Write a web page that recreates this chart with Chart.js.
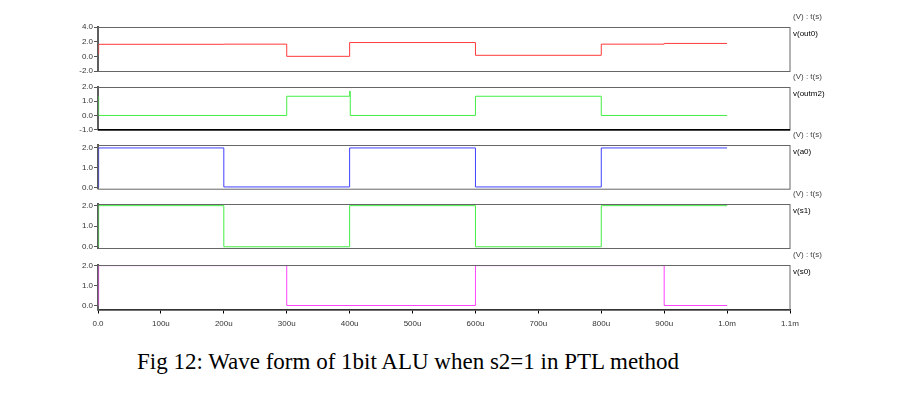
<!DOCTYPE html>
<html>
<head>
<meta charset="utf-8">
<script src="https://cdn.jsdelivr.net/npm/chart.js@4/dist/chart.umd.min.js"></script>
<style>
  body { margin: 0; background: #fff; }
  #wrap { position: relative; width: 906px; height: 399px; overflow: hidden; }
  #wrap canvas { position: absolute; left: 0; }
  #caption {
    position: absolute; left: 137px; top: 349px;
    font-family: "Liberation Serif", "DejaVu Serif", serif;
    font-size: 23px; color: #000; white-space: nowrap;
  }
</style>
</head>
<body>
<div id="wrap">
  <div id="caption">Fig 12: Wave form of 1bit ALU when s2=1 in PTL method</div>
</div>
<script>
// time in microseconds, values in volts (each value holds until the next time)
const out0T  = [0, 1, 200, 300, 400, 600, 800, 900, 1000];
const out0V  = [0.3, 1.64, 1.66, 0.0, 1.88, 0.14, 1.66, 1.76, 1.76];

const outm2T = [0, 1, 300, 400, 401, 600, 800, 1000];
const outm2V = [1.35, 0.0, 1.35, 1.7, 0.0, 1.35, 0.0, 0.0];

const a0T = [0, 1, 200, 400, 600, 800, 1000];
const a0V = [0.0, 2.0, 0.02, 2.0, 0.02, 2.0, 2.0];

const s1T = [0, 1, 200, 400, 600, 800, 1000];
const s1V = [0.0, 2.0, 0.0, 2.0, 0.0, 2.0, 2.0];

const s0T = [0, 1, 300, 600, 900, 1000];
const s0V = [0.0, 2.0, 0.0, 2.0, 0.0, 0.0];

const xTickLabels = ['0.0', '100u', '200u', '300u', '400u', '500u', '600u', '700u', '800u', '900u', '1.0m', '1.1m'];
const unitLabel = '(V) : t(s)';

// one entry per strip: name, colour, y range, tick step, top/height on page
const panels = [
  { name: 'v(out0)',  t: out0T,  v: out0V,  color: '#ff3a3a', min: -2,    max: 4,    step: 2, top: 27.3,  h: 44 },
  { name: 'v(outm2)', t: outm2T, v: outm2V, color: '#44ee44', min: -1,    max: 2,    step: 1, top: 87.3,  h: 42.7, blackBottom: true },
  { name: 'v(a0)',    t: a0T,    v: a0V,    color: '#4040ff', min: -0.07, max: 2.15, step: 1, top: 145.3, h: 43.7 },
  { name: 'v(s1)',    t: s1T,    v: s1V,    color: '#44ee44', min: -0.06, max: 2.08, step: 1, top: 204.3, h: 44 },
  { name: 'v(s0)',    t: s0T,    v: s0V,    color: '#ff44ff', min: -0.2,  max: 2.03, step: 1, top: 264.7, h: 44.5, xAxis: true }
];

const PAD_TOP = 16;
const PAD_BOTTOM = 6;
const X_AXIS_H = 30;
const font = { family: '"Liberation Sans", Arial, sans-serif', size: 8 };

const stripDecor = {
  id: 'stripDecor',
  afterDatasetsDraw(chart, args, opts) {
    const { ctx, chartArea: a } = chart;
    ctx.save();
    ctx.strokeStyle = '#666';
    ctx.lineWidth = 1;
    ctx.strokeRect(a.left, a.top + 0.5, a.right - a.left, a.bottom - a.top);
    if (opts.blackBottom) {
      ctx.strokeStyle = '#000';
      ctx.lineWidth = 1.5;
      ctx.beginPath();
      ctx.moveTo(a.left, a.bottom);
      ctx.lineTo(a.right, a.bottom);
      ctx.stroke();
    }
    ctx.font = '8px "Liberation Sans", Arial, sans-serif';
    ctx.textBaseline = 'middle';
    ctx.textAlign = 'left';
    ctx.fillStyle = '#444';
    ctx.fillText(unitLabel, a.right + 3, a.top - 10);
    ctx.fillStyle = '#000';
    ctx.fillText(opts.name, a.right + 3, a.top + 7);
    ctx.restore();
  }
};

const wrap = document.getElementById('wrap');

panels.forEach(p => {
  const canvas = document.createElement('canvas');
  const height = Math.round(PAD_TOP + p.h + (p.xAxis ? X_AXIS_H : PAD_BOTTOM));
  canvas.style.top = (p.top - PAD_TOP) + 'px';
  canvas.style.width = '906px';
  canvas.style.height = height + 'px';
  canvas.width = 906;
  canvas.height = height;
  wrap.appendChild(canvas);

  const xScale = {
    type: 'linear',
    display: !!p.xAxis,
    min: 0,
    max: 1100,
    ticks: {
      stepSize: 100,
      autoSkip: false,
      maxRotation: 0,
      font,
      color: '#333',
      padding: 5,
      callback: (v, i) => xTickLabels[i]
    },
    grid: { drawOnChartArea: false, drawTicks: true, tickLength: 4, color: '#000' },
    border: { display: true, color: '#000', width: 1.5 }
  };
  if (p.xAxis) xScale.afterFit = s => { s.height = height - PAD_TOP - p.h; };

  new Chart(canvas.getContext('2d'), {
    type: 'line',
    data: {
      datasets: [{
        label: p.name,
        data: p.t.map((t, i) => ({ x: t, y: p.v[i] })),
        borderColor: p.color,
        borderWidth: 1,
        pointRadius: 0,
        stepped: true,
        fill: false,
        tension: 0
      }]
    },
    options: {
      responsive: false,
      animation: false,
      parsing: false,
      layout: { padding: { top: PAD_TOP, bottom: p.xAxis ? 0 : height - PAD_TOP - p.h, left: 0, right: 116 } },
      scales: {
        x: xScale,
        y: {
          min: p.min,
          max: p.max,
          afterFit: s => { s.width = 98; },
          ticks: {
            stepSize: p.step,
            includeBounds: false,
            font,
            color: '#333',
            padding: 1,
            callback: v => v.toFixed(1)
          },
          grid: { drawOnChartArea: false, drawTicks: true, tickLength: 4, color: '#555' },
          border: { display: true, color: '#555', width: 2 }
        }
      },
      plugins: {
        legend: { display: false },
        tooltip: { enabled: false },
        stripDecor: { name: p.name, blackBottom: !!p.blackBottom }
      }
    },
    plugins: [stripDecor]
  });
});
</script>
</body>
</html>
